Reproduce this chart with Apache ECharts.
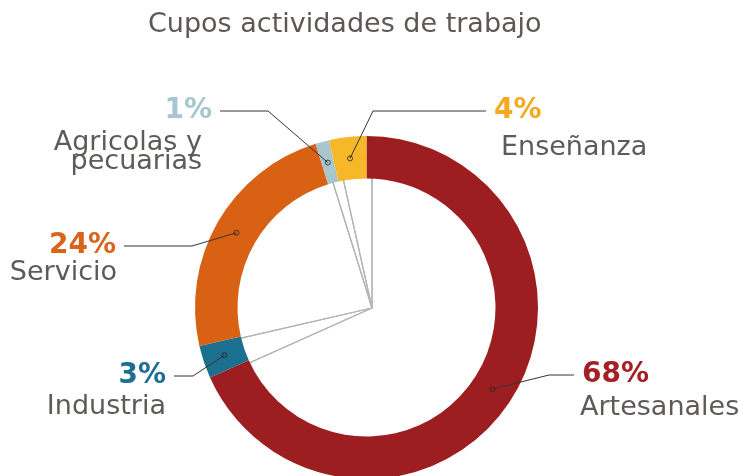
<!DOCTYPE html>
<html>
<head>
<meta charset="utf-8">
<script src="https://cdn.jsdelivr.net/npm/echarts@6/dist/echarts.min.js"></script>
<style>
  html, body { margin: 0; padding: 0; background: #fff; }
  #main { width: 742px; height: 476px; }
</style>
</head>
<body>
<div id="main"></div>
<script>
// datos
const categories = ["Artesanales", "Industria", "Servicio", "Agricolas y\npecuarias", "Enseñanza"];
const values = [68.3, 3.1, 23.8, 1.3, 3.5];
const ringColors = ["#9d1e20", "#1b7090", "#d86114", "#a9c6cf", "#f6b829"];
const pctColors = ["#a52024", "#1c6f92", "#d9651c", "#a8c6d0", "#f4aa20"];

// posicion de etiquetas (x, y del porcentaje, codo de la linea, nombre)
const spots = [
  { align: "left",  x: 582, y: 375, elbow: 549, nameX: 580, nameY: 408 },
  { align: "right", x: 166, y: 376, elbow: 193, nameX: 166, nameY: 407 },
  { align: "right", x: 116, y: 246, elbow: 192, nameX: 117, nameY: 273 },
  { align: "right", x: 212, y: 111, elbow: 268, nameX: 202, nameY: 152 },
  { align: "left",  x: 494, y: 111, elbow: 373, nameX: 501, nameY: 148 }
];

const CX = 366.5, CY = 307.5, R_OUT = 171.5, R_IN = 129, R_MID = 150;
const FONT = "DejaVu Sans";

const total = values.reduce((a, b) => a + b, 0);
const mids = [];
let acc = 0;
values.forEach(v => { mids.push(acc + v / 2); acc += v; });

var myChart = echarts.init(document.getElementById("main"));

const pieData = categories.map((c, i) => ({ name: c, value: values[i] }));

var option = {
  animation: false,
  title: {
    text: "Cupos actividades de trabajo",
    left: 143,
    top: 6,
    textStyle: { fontFamily: FONT, fontSize: 27, fontWeight: "normal", color: "#5d5856" }
  },
  polar: { center: [CX, CY], radius: R_OUT },
  angleAxis: { type: "value", min: 0, max: total, startAngle: 90, clockwise: true, show: false },
  radiusAxis: { type: "value", min: 0, max: R_OUT, show: false },
  series: [
    {
      // lineas grises desde el centro
      type: "pie",
      center: [372, 308],
      radius: [0, 150],
      startAngle: 90,
      silent: true,
      z: 1,
      label: { show: false },
      labelLine: { show: false },
      itemStyle: { color: "rgba(0,0,0,0)", borderColor: "#b3b3b3", borderWidth: 1.2 },
      data: pieData
    },
    {
      type: "pie",
      center: [CX, CY],
      radius: [R_IN, R_OUT],
      startAngle: 90,
      silent: true,
      z: 3,
      label: { show: false },
      labelLine: { show: false },
      itemStyle: { borderWidth: 0 },
      data: pieData.map((d, i) => ({ ...d, itemStyle: { color: ringColors[i] } }))
    },
    {
      // porcentajes con linea guia
      type: "pie",
      center: [CX, CY],
      radius: [0, R_MID],
      startAngle: 90,
      silent: true,
      z: 5,
      avoidLabelOverlap: false,
      itemStyle: { color: "rgba(0,0,0,0)", borderWidth: 0 },
      label: {
        show: true,
        position: "outside",
        fontFamily: FONT,
        fontSize: 28,
        fontWeight: "bold",
        formatter: p => Math.round(p.value) + "%"
      },
      labelLine: { show: true, lineStyle: { color: "#333", width: 1 } },
      labelLayout: function (params) {
        const s = spots[params.dataIndex];
        const p0 = params.labelLinePoints[0];
        const endX = s.align === "left" ? s.x - 8 : s.x + 8;
        return {
          x: s.x, y: s.y, align: s.align, verticalAlign: "middle",
          labelLinePoints: [[p0[0], p0[1]], [s.elbow, s.y], [endX, s.y]]
        };
      },
      data: pieData.map((d, i) => ({ ...d, label: { color: pctColors[i] } }))
    },
    {
      // nombres
      type: "pie",
      center: [CX, CY],
      radius: [0, R_MID],
      startAngle: 90,
      silent: true,
      z: 5,
      avoidLabelOverlap: false,
      itemStyle: { color: "rgba(0,0,0,0)", borderWidth: 0 },
      label: {
        show: true,
        position: "outside",
        fontFamily: FONT,
        fontSize: 27,
        lineHeight: 19,
        color: "#5e5a58",
        formatter: "{b}"
      },
      labelLine: { show: false },
      labelLayout: function (params) {
        const s = spots[params.dataIndex];
        return { x: s.nameX, y: s.nameY, align: s.align, verticalAlign: "middle" };
      },
      data: pieData
    },
    {
      // puntos de inicio de las lineas
      type: "scatter",
      coordinateSystem: "polar",
      silent: true,
      z: 6,
      symbol: "circle",
      symbolSize: 5,
      itemStyle: { color: "rgba(0,0,0,0)", borderColor: "#222", borderWidth: 1 },
      data: mids.map(m => [R_MID, m])
    }
  ]
};
myChart.setOption(option);
</script>
</body>
</html>
